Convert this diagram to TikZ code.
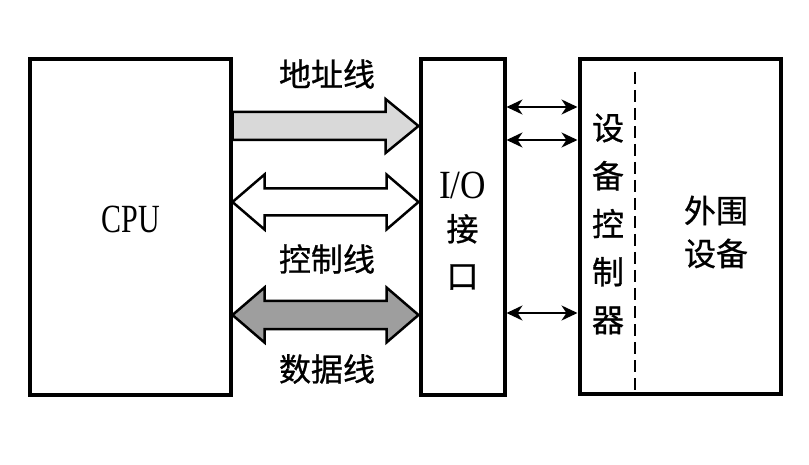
\documentclass[tikz,border=0pt]{standalone}
\usepackage{fontspec}
\setmainfont{Liberation Serif}
\newfontfamily\cjk[FakeBold=0.8]{Noto Sans CJK SC}
\usepackage{tikz}
\usetikzlibrary{arrows.meta,calc,positioning,backgrounds}

\tikzset{
  box/.style={draw,line width=4pt,inner sep=0pt},
  bus/.style={draw,line width=2.5pt,line join=miter},
  link/.style={{Stealth[length=16pt,width=15pt,inset=5pt]}-{Stealth[length=16pt,width=15pt,inset=5pt]},line width=2pt},
  cjktext/.style={font=\cjk\fontsize{32}{38}\selectfont},
  latintext/.style={font=\fontsize{40}{44}\selectfont},
}

\begin{document}
\begin{tikzpicture}[x=1pt,y=-1pt]
\useasboundingbox (0,0) rectangle (809,465);
% boxes
\node[box,minimum width=201pt,minimum height=335pt] (cpu) at (130,227) {};
\node[box,minimum width=84pt,minimum height=335pt] (io) at (462.5,227) {};
\node[box,minimum width=201pt,minimum height=334pt] (dev) at (680,226.5) {};
% texts
\node[latintext] (cputxt) at (131,219) {\scalebox{0.75}[1]{CPU}};
\node[align=center,cjktext,inner sep=0pt] (iotxt) at (462.5,231) {{\fontspec{Liberation Serif}\fontsize{40}{44}\selectfont\scalebox{0.88}[1]{I/O}}\\[4pt]接\\[9pt]口};
\node[align=center,inner sep=0pt,font=\cjk\fontsize{32}{48}\selectfont] (ctltxt) at (608,224) {设\\备\\控\\制\\器};
\node[align=center,inner sep=0pt,font=\cjk\fontsize{32}{43}\selectfont] (pertxt) at (716,232) {外围\\设备};
\node[cjktext] (addrlbl) at (327,74) {地址线};
\node[cjktext] (ctrllbl) at (327,259) {控制线};
\node[cjktext] (datalbl) at (327,369) {数据线};
% dashed split inside the device box
\coordinate (dtop) at (635,72);
\draw[line width=2pt,dash pattern=on 12pt off 6pt] (dtop) -- (dtop |- dev.south);
% links between interface and device controller
\coordinate (r1) at (0,107);
\coordinate (r2) at (0,140);
\coordinate (r3) at (0,313);
\draw[link] (io.east |- r1) -- (dev.west |- r1);
\draw[link] (io.east |- r2) -- (dev.west |- r2);
\draw[link] (io.east |- r3) -- (dev.west |- r3);
% system buses
\coordinate (ya) at (0,126);
\coordinate (yc) at (0,202);
\coordinate (yd) at (0,315);
\coordinate (ta) at (cpu.east |- ya); \coordinate (ha) at (io.west |- ya);
\coordinate (tc) at (cpu.east |- yc); \coordinate (hc) at (io.west |- yc);
\coordinate (td) at (cpu.east |- yd); \coordinate (hd) at (io.west |- yd);
\begin{scope}[on background layer]
\draw[bus,fill=black!15] ($(ta)+(0,-14)$) -- ($(ha)+(-33,-14)$) -- ($(ha)+(-33,-27)$) -- (ha)
  -- ($(ha)+(-33,27)$) -- ($(ha)+(-33,14)$) -- ($(ta)+(0,14)$) -- cycle;
\draw[bus,fill=white] (tc) -- ($(tc)+(32,-27.5)$) -- ($(tc)+(32,-13.5)$) -- ($(hc)+(-32,-13.5)$)
  -- ($(hc)+(-32,-27.5)$) -- (hc) -- ($(hc)+(-32,27.5)$) -- ($(hc)+(-32,13.5)$)
  -- ($(tc)+(32,13.5)$) -- ($(tc)+(32,27.5)$) -- cycle;
\draw[bus,fill=black!38] (td) -- ($(td)+(32,-27.5)$) -- ($(td)+(32,-14)$) -- ($(hd)+(-32,-14)$)
  -- ($(hd)+(-32,-27.5)$) -- (hd) -- ($(hd)+(-32,27.5)$) -- ($(hd)+(-32,14)$)
  -- ($(td)+(32,14)$) -- ($(td)+(32,27.5)$) -- cycle;
\end{scope}
\end{tikzpicture}
\end{document}
